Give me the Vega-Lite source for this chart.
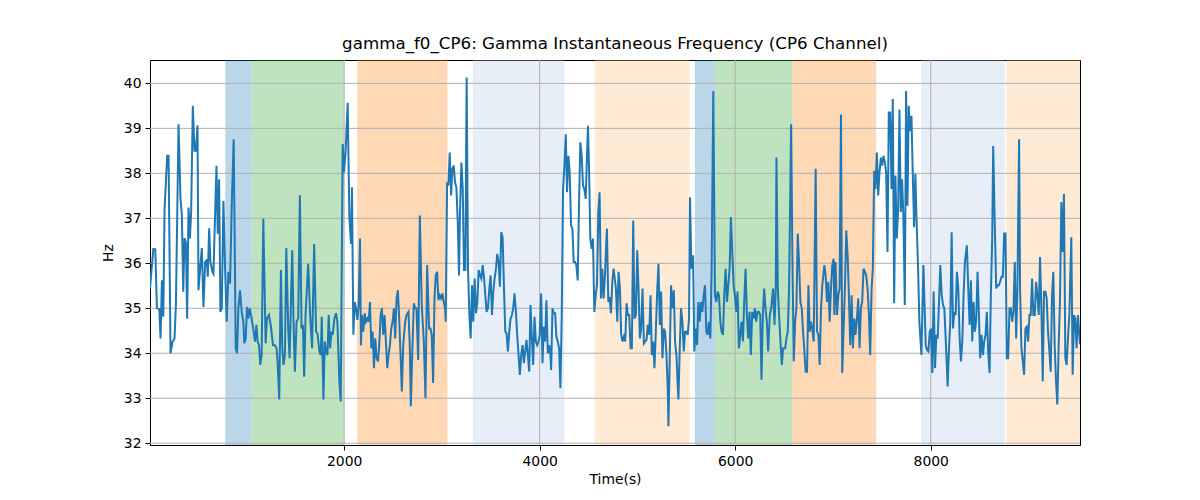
{
  "$schema": "https://vega.github.io/schema/vega-lite/v6.json",
  "width": 930,
  "height": 385,
  "autosize": {"type": "none"},
  "padding": {"left": 150, "top": 60, "right": 120, "bottom": 55},
  "title": {
    "text": "gamma_f0_CP6: Gamma Instantaneous Frequency (CP6 Channel)",
    "font": "DejaVu Sans",
    "fontSize": 16.7,
    "fontWeight": "normal",
    "color": "black",
    "offset": 7
  },
  "datasets": {
    "spans": [
      {"start": 784, "end": 1053, "kind": "a"},
      {"start": 1053, "end": 2000, "kind": "b"},
      {"start": 2133, "end": 3057, "kind": "c"},
      {"start": 3316, "end": 4253, "kind": "d"},
      {"start": 4563, "end": 5534, "kind": "e"},
      {"start": 5588, "end": 5793, "kind": "a"},
      {"start": 5793, "end": 6587, "kind": "b"},
      {"start": 6587, "end": 7442, "kind": "c"},
      {"start": 7902, "end": 8757, "kind": "d"},
      {"start": 8771, "end": 9527, "kind": "e"}
    ],
    "ygrid": [{"y": 32}, {"y": 33}, {"y": 34}, {"y": 35}, {"y": 36}, {"y": 37}, {"y": 38}, {"y": 39}, {"y": 40}],
    "xgrid": [{"x": 2000}, {"x": 4000}, {"x": 6000}, {"x": 8000}],
    "series": [
      {"t": 14, "v": 35.44}, {"t": 48, "v": 36.32}, {"t": 68, "v": 36.31}, {"t": 85, "v": 35.0}, {"t": 109, "v": 34.98},
      {"t": 122, "v": 34.33}, {"t": 136, "v": 35.62}, {"t": 150, "v": 34.81}, {"t": 163, "v": 37.21}, {"t": 190, "v": 38.39},
      {"t": 204, "v": 38.39}, {"t": 224, "v": 34.0}, {"t": 245, "v": 34.26}, {"t": 265, "v": 34.33}, {"t": 279, "v": 35.07},
      {"t": 306, "v": 39.09}, {"t": 326, "v": 37.43}, {"t": 340, "v": 37.06}, {"t": 354, "v": 35.37}, {"t": 367, "v": 36.56},
      {"t": 381, "v": 36.47}, {"t": 394, "v": 34.77}, {"t": 408, "v": 37.24}, {"t": 422, "v": 36.55}, {"t": 435, "v": 37.14},
      {"t": 452, "v": 39.5}, {"t": 469, "v": 38.5}, {"t": 483, "v": 38.5}, {"t": 500, "v": 39.07}, {"t": 510, "v": 35.4},
      {"t": 527, "v": 35.88}, {"t": 544, "v": 36.34}, {"t": 561, "v": 35.03}, {"t": 578, "v": 36.03}, {"t": 595, "v": 36.07},
      {"t": 605, "v": 35.7}, {"t": 619, "v": 36.78}, {"t": 632, "v": 36.03}, {"t": 653, "v": 35.81}, {"t": 663, "v": 35.77},
      {"t": 694, "v": 38.17}, {"t": 707, "v": 36.66}, {"t": 721, "v": 37.87}, {"t": 734, "v": 34.92}, {"t": 748, "v": 35.0},
      {"t": 765, "v": 37.39}, {"t": 782, "v": 35.88}, {"t": 799, "v": 34.7}, {"t": 816, "v": 35.81}, {"t": 833, "v": 35.55},
      {"t": 850, "v": 37.28}, {"t": 870, "v": 38.76}, {"t": 891, "v": 34.11}, {"t": 904, "v": 34.0}, {"t": 918, "v": 35.0},
      {"t": 935, "v": 35.4}, {"t": 952, "v": 34.92}, {"t": 969, "v": 34.7}, {"t": 979, "v": 34.22}, {"t": 993, "v": 34.33},
      {"t": 1006, "v": 35.03}, {"t": 1020, "v": 34.77}, {"t": 1034, "v": 35.0}, {"t": 1054, "v": 34.77}, {"t": 1074, "v": 34.48},
      {"t": 1088, "v": 34.26}, {"t": 1102, "v": 34.63}, {"t": 1115, "v": 34.26}, {"t": 1129, "v": 34.18}, {"t": 1142, "v": 33.74},
      {"t": 1156, "v": 33.96}, {"t": 1173, "v": 36.99}, {"t": 1197, "v": 34.22}, {"t": 1210, "v": 34.77}, {"t": 1231, "v": 34.85},
      {"t": 1251, "v": 34.59}, {"t": 1272, "v": 34.18}, {"t": 1292, "v": 34.18}, {"t": 1309, "v": 34.11}, {"t": 1319, "v": 33.82},
      {"t": 1336, "v": 32.97}, {"t": 1353, "v": 35.85}, {"t": 1367, "v": 34.11}, {"t": 1380, "v": 33.74}, {"t": 1394, "v": 33.96},
      {"t": 1408, "v": 36.34}, {"t": 1428, "v": 34.55}, {"t": 1442, "v": 33.89}, {"t": 1469, "v": 36.29}, {"t": 1482, "v": 34.7},
      {"t": 1496, "v": 33.59}, {"t": 1513, "v": 34.7}, {"t": 1530, "v": 34.77}, {"t": 1547, "v": 37.51}, {"t": 1564, "v": 34.55},
      {"t": 1578, "v": 34.63}, {"t": 1591, "v": 33.48}, {"t": 1605, "v": 34.85}, {"t": 1632, "v": 35.99}, {"t": 1652, "v": 34.85},
      {"t": 1672, "v": 34.11}, {"t": 1693, "v": 36.43}, {"t": 1713, "v": 34.48}, {"t": 1727, "v": 34.44}, {"t": 1747, "v": 34.04},
      {"t": 1761, "v": 33.96}, {"t": 1771, "v": 34.81}, {"t": 1788, "v": 32.97}, {"t": 1802, "v": 34.26}, {"t": 1815, "v": 34.04},
      {"t": 1829, "v": 33.96}, {"t": 1842, "v": 34.85}, {"t": 1856, "v": 34.11}, {"t": 1870, "v": 34.48}, {"t": 1883, "v": 34.41},
      {"t": 1900, "v": 34.77}, {"t": 1917, "v": 34.89}, {"t": 1931, "v": 34.7}, {"t": 1951, "v": 33.37}, {"t": 1965, "v": 32.93},
      {"t": 1985, "v": 38.65}, {"t": 1999, "v": 38.02}, {"t": 2016, "v": 38.54}, {"t": 2036, "v": 39.57}, {"t": 2053, "v": 37.06},
      {"t": 2070, "v": 36.43}, {"t": 2080, "v": 37.69}, {"t": 2094, "v": 34.41}, {"t": 2108, "v": 35.14}, {"t": 2121, "v": 35.0},
      {"t": 2135, "v": 34.74}, {"t": 2148, "v": 35.07}, {"t": 2162, "v": 36.55}, {"t": 2172, "v": 34.18}, {"t": 2182, "v": 34.85},
      {"t": 2196, "v": 34.48}, {"t": 2210, "v": 34.89}, {"t": 2223, "v": 34.7}, {"t": 2237, "v": 34.77}, {"t": 2250, "v": 34.7},
      {"t": 2264, "v": 35.14}, {"t": 2278, "v": 34.11}, {"t": 2291, "v": 34.48}, {"t": 2305, "v": 33.67}, {"t": 2318, "v": 34.33},
      {"t": 2332, "v": 33.89}, {"t": 2346, "v": 33.82}, {"t": 2359, "v": 34.18}, {"t": 2373, "v": 34.85}, {"t": 2386, "v": 35.0},
      {"t": 2400, "v": 34.41}, {"t": 2414, "v": 34.85}, {"t": 2427, "v": 34.26}, {"t": 2441, "v": 33.67}, {"t": 2454, "v": 33.96},
      {"t": 2468, "v": 34.18}, {"t": 2482, "v": 34.55}, {"t": 2495, "v": 34.7}, {"t": 2509, "v": 35.0}, {"t": 2522, "v": 34.33},
      {"t": 2536, "v": 35.22}, {"t": 2550, "v": 35.4}, {"t": 2563, "v": 34.77}, {"t": 2577, "v": 33.96}, {"t": 2590, "v": 33.15},
      {"t": 2604, "v": 34.18}, {"t": 2624, "v": 34.7}, {"t": 2638, "v": 34.85}, {"t": 2658, "v": 34.92}, {"t": 2672, "v": 34.11},
      {"t": 2682, "v": 32.82}, {"t": 2699, "v": 34.18}, {"t": 2713, "v": 35.11}, {"t": 2726, "v": 35.0}, {"t": 2740, "v": 35.0},
      {"t": 2757, "v": 33.85}, {"t": 2774, "v": 37.06}, {"t": 2794, "v": 35.07}, {"t": 2815, "v": 34.26}, {"t": 2832, "v": 33.0},
      {"t": 2849, "v": 35.96}, {"t": 2869, "v": 34.55}, {"t": 2883, "v": 34.55}, {"t": 2896, "v": 34.41}, {"t": 2910, "v": 33.34},
      {"t": 2924, "v": 35.22}, {"t": 2937, "v": 35.73}, {"t": 2951, "v": 35.81}, {"t": 2964, "v": 35.18}, {"t": 2978, "v": 35.29},
      {"t": 2992, "v": 35.22}, {"t": 3005, "v": 35.33}, {"t": 3019, "v": 35.14}, {"t": 3032, "v": 35.0}, {"t": 3039, "v": 34.7},
      {"t": 3053, "v": 37.8}, {"t": 3066, "v": 37.73}, {"t": 3080, "v": 38.46}, {"t": 3094, "v": 37.51}, {"t": 3107, "v": 38.1},
      {"t": 3121, "v": 38.17}, {"t": 3134, "v": 37.8}, {"t": 3148, "v": 37.69}, {"t": 3162, "v": 36.92}, {"t": 3175, "v": 35.73},
      {"t": 3185, "v": 37.14}, {"t": 3199, "v": 38.24}, {"t": 3213, "v": 37.65}, {"t": 3226, "v": 35.85}, {"t": 3240, "v": 35.85},
      {"t": 3253, "v": 40.13}, {"t": 3267, "v": 35.88}, {"t": 3281, "v": 34.85}, {"t": 3294, "v": 34.33}, {"t": 3308, "v": 35.51},
      {"t": 3321, "v": 34.7}, {"t": 3335, "v": 35.66}, {"t": 3349, "v": 34.89}, {"t": 3362, "v": 35.14}, {"t": 3376, "v": 35.85},
      {"t": 3389, "v": 35.73}, {"t": 3403, "v": 35.66}, {"t": 3417, "v": 35.96}, {"t": 3430, "v": 35.7}, {"t": 3444, "v": 35.29},
      {"t": 3457, "v": 34.92}, {"t": 3471, "v": 35.0}, {"t": 3485, "v": 35.44}, {"t": 3498, "v": 35.73}, {"t": 3512, "v": 34.85},
      {"t": 3525, "v": 35.37}, {"t": 3539, "v": 35.66}, {"t": 3553, "v": 35.88}, {"t": 3566, "v": 36.21}, {"t": 3580, "v": 36.03},
      {"t": 3593, "v": 35.48}, {"t": 3607, "v": 36.69}, {"t": 3621, "v": 36.58}, {"t": 3634, "v": 35.51}, {"t": 3648, "v": 34.48},
      {"t": 3661, "v": 34.44}, {"t": 3675, "v": 34.04}, {"t": 3689, "v": 34.48}, {"t": 3702, "v": 34.77}, {"t": 3716, "v": 34.85},
      {"t": 3729, "v": 35.0}, {"t": 3743, "v": 35.33}, {"t": 3757, "v": 34.92}, {"t": 3770, "v": 34.41}, {"t": 3784, "v": 33.96},
      {"t": 3797, "v": 33.52}, {"t": 3811, "v": 33.96}, {"t": 3825, "v": 34.18}, {"t": 3838, "v": 33.78}, {"t": 3852, "v": 34.04},
      {"t": 3865, "v": 34.3}, {"t": 3879, "v": 33.96}, {"t": 3893, "v": 33.59}, {"t": 3906, "v": 35.07}, {"t": 3920, "v": 34.33},
      {"t": 3933, "v": 33.74}, {"t": 3947, "v": 34.81}, {"t": 3961, "v": 34.26}, {"t": 3974, "v": 34.18}, {"t": 3988, "v": 34.26},
      {"t": 4001, "v": 34.41}, {"t": 4015, "v": 35.33}, {"t": 4029, "v": 33.78}, {"t": 4042, "v": 34.59}, {"t": 4056, "v": 34.26},
      {"t": 4069, "v": 35.18}, {"t": 4083, "v": 34.0}, {"t": 4097, "v": 34.18}, {"t": 4110, "v": 33.96}, {"t": 4117, "v": 33.63},
      {"t": 4131, "v": 35.0}, {"t": 4144, "v": 34.89}, {"t": 4158, "v": 34.89}, {"t": 4171, "v": 34.37}, {"t": 4185, "v": 34.26},
      {"t": 4199, "v": 34.11}, {"t": 4212, "v": 33.22}, {"t": 4226, "v": 34.85}, {"t": 4239, "v": 37.65}, {"t": 4253, "v": 38.17},
      {"t": 4267, "v": 38.87}, {"t": 4280, "v": 37.58}, {"t": 4294, "v": 38.39}, {"t": 4307, "v": 38.02}, {"t": 4321, "v": 36.84},
      {"t": 4335, "v": 36.77}, {"t": 4348, "v": 36.03}, {"t": 4362, "v": 36.03}, {"t": 4375, "v": 35.96}, {"t": 4389, "v": 35.62},
      {"t": 4403, "v": 37.36}, {"t": 4416, "v": 38.69}, {"t": 4430, "v": 38.39}, {"t": 4443, "v": 37.73}, {"t": 4457, "v": 37.65},
      {"t": 4471, "v": 37.43}, {"t": 4484, "v": 38.39}, {"t": 4494, "v": 39.06}, {"t": 4505, "v": 38.1}, {"t": 4518, "v": 36.55},
      {"t": 4532, "v": 36.32}, {"t": 4545, "v": 36.55}, {"t": 4559, "v": 34.92}, {"t": 4573, "v": 35.29}, {"t": 4586, "v": 35.51},
      {"t": 4600, "v": 37.14}, {"t": 4613, "v": 37.58}, {"t": 4627, "v": 35.22}, {"t": 4641, "v": 35.88}, {"t": 4654, "v": 35.22},
      {"t": 4668, "v": 35.73}, {"t": 4681, "v": 36.47}, {"t": 4688, "v": 36.77}, {"t": 4702, "v": 35.14}, {"t": 4715, "v": 35.25},
      {"t": 4729, "v": 34.89}, {"t": 4743, "v": 35.59}, {"t": 4756, "v": 35.88}, {"t": 4780, "v": 35.44}, {"t": 4794, "v": 34.7},
      {"t": 4807, "v": 35.81}, {"t": 4821, "v": 35.44}, {"t": 4834, "v": 34.41}, {"t": 4848, "v": 34.26}, {"t": 4862, "v": 34.37},
      {"t": 4875, "v": 34.26}, {"t": 4889, "v": 35.11}, {"t": 4902, "v": 34.85}, {"t": 4916, "v": 34.85}, {"t": 4930, "v": 34.11},
      {"t": 4943, "v": 34.11}, {"t": 4957, "v": 36.95}, {"t": 4970, "v": 34.77}, {"t": 4984, "v": 34.85}, {"t": 4998, "v": 36.29},
      {"t": 5011, "v": 35.44}, {"t": 5025, "v": 34.33}, {"t": 5038, "v": 34.55}, {"t": 5052, "v": 35.44}, {"t": 5066, "v": 34.22},
      {"t": 5079, "v": 34.26}, {"t": 5093, "v": 34.3}, {"t": 5106, "v": 34.63}, {"t": 5120, "v": 34.41}, {"t": 5134, "v": 35.29},
      {"t": 5147, "v": 33.96}, {"t": 5161, "v": 34.26}, {"t": 5174, "v": 33.67}, {"t": 5188, "v": 34.48}, {"t": 5202, "v": 35.37},
      {"t": 5215, "v": 35.99}, {"t": 5229, "v": 34.63}, {"t": 5242, "v": 35.37}, {"t": 5256, "v": 33.89}, {"t": 5270, "v": 34.55},
      {"t": 5283, "v": 34.48}, {"t": 5297, "v": 33.96}, {"t": 5310, "v": 33.22}, {"t": 5317, "v": 32.38}, {"t": 5331, "v": 33.96},
      {"t": 5344, "v": 35.51}, {"t": 5358, "v": 35.0}, {"t": 5372, "v": 35.4}, {"t": 5385, "v": 34.26}, {"t": 5399, "v": 33.96},
      {"t": 5412, "v": 33.3}, {"t": 5419, "v": 32.97}, {"t": 5433, "v": 34.11}, {"t": 5446, "v": 35.0}, {"t": 5460, "v": 34.7},
      {"t": 5474, "v": 34.04}, {"t": 5487, "v": 34.48}, {"t": 5501, "v": 34.48}, {"t": 5514, "v": 34.41}, {"t": 5528, "v": 34.77},
      {"t": 5538, "v": 37.47}, {"t": 5552, "v": 35.88}, {"t": 5569, "v": 36.18}, {"t": 5582, "v": 34.04}, {"t": 5596, "v": 34.55},
      {"t": 5610, "v": 34.18}, {"t": 5623, "v": 35.14}, {"t": 5637, "v": 34.7}, {"t": 5650, "v": 35.14}, {"t": 5664, "v": 34.92},
      {"t": 5678, "v": 35.29}, {"t": 5691, "v": 35.51}, {"t": 5705, "v": 34.48}, {"t": 5718, "v": 34.41}, {"t": 5732, "v": 34.7},
      {"t": 5746, "v": 34.33}, {"t": 5759, "v": 35.88}, {"t": 5776, "v": 39.83}, {"t": 5793, "v": 35.29}, {"t": 5807, "v": 35.14},
      {"t": 5820, "v": 35.37}, {"t": 5834, "v": 35.29}, {"t": 5848, "v": 34.7}, {"t": 5861, "v": 34.48}, {"t": 5875, "v": 34.41},
      {"t": 5888, "v": 35.29}, {"t": 5902, "v": 35.88}, {"t": 5916, "v": 35.14}, {"t": 5929, "v": 35.51}, {"t": 5943, "v": 35.88},
      {"t": 5956, "v": 37.03}, {"t": 5970, "v": 36.25}, {"t": 5984, "v": 35.51}, {"t": 5997, "v": 35.29}, {"t": 6011, "v": 34.92},
      {"t": 6024, "v": 35.37}, {"t": 6038, "v": 34.11}, {"t": 6052, "v": 34.41}, {"t": 6065, "v": 34.7}, {"t": 6079, "v": 34.26},
      {"t": 6092, "v": 35.14}, {"t": 6106, "v": 35.88}, {"t": 6120, "v": 34.85}, {"t": 6133, "v": 34.33}, {"t": 6147, "v": 34.92},
      {"t": 6160, "v": 33.96}, {"t": 6174, "v": 34.92}, {"t": 6188, "v": 34.77}, {"t": 6201, "v": 35.0}, {"t": 6215, "v": 34.7},
      {"t": 6228, "v": 34.92}, {"t": 6242, "v": 34.92}, {"t": 6256, "v": 34.85}, {"t": 6269, "v": 33.41}, {"t": 6283, "v": 34.85},
      {"t": 6296, "v": 35.44}, {"t": 6310, "v": 35.0}, {"t": 6324, "v": 34.7}, {"t": 6337, "v": 34.04}, {"t": 6354, "v": 34.85},
      {"t": 6368, "v": 35.0}, {"t": 6388, "v": 35.44}, {"t": 6402, "v": 34.63}, {"t": 6415, "v": 35.44}, {"t": 6422, "v": 38.35},
      {"t": 6436, "v": 35.44}, {"t": 6449, "v": 34.85}, {"t": 6463, "v": 34.26}, {"t": 6477, "v": 33.74}, {"t": 6490, "v": 34.11},
      {"t": 6511, "v": 34.11}, {"t": 6524, "v": 34.33}, {"t": 6538, "v": 34.48}, {"t": 6551, "v": 35.44}, {"t": 6572, "v": 39.09},
      {"t": 6585, "v": 36.18}, {"t": 6599, "v": 33.82}, {"t": 6613, "v": 34.7}, {"t": 6626, "v": 35.0}, {"t": 6640, "v": 36.66},
      {"t": 6653, "v": 36.03}, {"t": 6667, "v": 35.14}, {"t": 6681, "v": 35.0}, {"t": 6694, "v": 34.48}, {"t": 6708, "v": 34.04},
      {"t": 6721, "v": 33.59}, {"t": 6735, "v": 33.59}, {"t": 6749, "v": 35.51}, {"t": 6762, "v": 34.48}, {"t": 6776, "v": 34.7},
      {"t": 6789, "v": 34.52}, {"t": 6803, "v": 34.26}, {"t": 6823, "v": 38.1}, {"t": 6837, "v": 34.48}, {"t": 6851, "v": 34.41},
      {"t": 6864, "v": 33.74}, {"t": 6878, "v": 35.0}, {"t": 6891, "v": 35.51}, {"t": 6912, "v": 35.96}, {"t": 6925, "v": 35.73},
      {"t": 6939, "v": 35.14}, {"t": 6953, "v": 35.59}, {"t": 6966, "v": 34.7}, {"t": 6980, "v": 35.44}, {"t": 6993, "v": 35.96},
      {"t": 7007, "v": 36.1}, {"t": 7014, "v": 34.85}, {"t": 7027, "v": 36.03}, {"t": 7041, "v": 34.85}, {"t": 7055, "v": 35.29},
      {"t": 7068, "v": 35.44}, {"t": 7082, "v": 39.31}, {"t": 7095, "v": 33.56}, {"t": 7109, "v": 34.55}, {"t": 7123, "v": 35.51},
      {"t": 7136, "v": 36.73}, {"t": 7150, "v": 36.18}, {"t": 7163, "v": 35.29}, {"t": 7177, "v": 34.18}, {"t": 7191, "v": 35.29},
      {"t": 7204, "v": 34.11}, {"t": 7218, "v": 34.77}, {"t": 7231, "v": 34.41}, {"t": 7245, "v": 34.77}, {"t": 7259, "v": 35.22},
      {"t": 7272, "v": 34.11}, {"t": 7286, "v": 35.0}, {"t": 7299, "v": 35.14}, {"t": 7313, "v": 35.88}, {"t": 7327, "v": 35.81},
      {"t": 7340, "v": 35.73}, {"t": 7354, "v": 35.44}, {"t": 7367, "v": 34.92}, {"t": 7381, "v": 33.96}, {"t": 7395, "v": 35.44},
      {"t": 7408, "v": 35.88}, {"t": 7422, "v": 38.06}, {"t": 7435, "v": 37.65}, {"t": 7449, "v": 38.46}, {"t": 7463, "v": 37.51},
      {"t": 7476, "v": 38.02}, {"t": 7490, "v": 38.35}, {"t": 7503, "v": 38.17}, {"t": 7517, "v": 38.39}, {"t": 7531, "v": 38.24},
      {"t": 7544, "v": 38.02}, {"t": 7558, "v": 36.25}, {"t": 7571, "v": 39.35}, {"t": 7585, "v": 39.35}, {"t": 7599, "v": 37.65},
      {"t": 7612, "v": 39.65}, {"t": 7626, "v": 35.11}, {"t": 7639, "v": 37.95}, {"t": 7653, "v": 36.55}, {"t": 7667, "v": 37.21},
      {"t": 7680, "v": 39.42}, {"t": 7694, "v": 37.14}, {"t": 7707, "v": 37.87}, {"t": 7721, "v": 36.99}, {"t": 7735, "v": 35.07},
      {"t": 7748, "v": 39.83}, {"t": 7762, "v": 37.28}, {"t": 7775, "v": 39.5}, {"t": 7789, "v": 38.94}, {"t": 7803, "v": 39.28},
      {"t": 7816, "v": 38.02}, {"t": 7830, "v": 36.8}, {"t": 7843, "v": 37.99}, {"t": 7857, "v": 36.84}, {"t": 7871, "v": 35.88},
      {"t": 7884, "v": 34.7}, {"t": 7905, "v": 33.96}, {"t": 7925, "v": 35.96}, {"t": 7949, "v": 34.18}, {"t": 7962, "v": 34.07},
      {"t": 7976, "v": 34.04}, {"t": 7990, "v": 34.48}, {"t": 8003, "v": 34.55}, {"t": 8017, "v": 33.56}, {"t": 8030, "v": 35.37},
      {"t": 8044, "v": 33.67}, {"t": 8058, "v": 34.41}, {"t": 8071, "v": 34.33}, {"t": 8085, "v": 35.14}, {"t": 8098, "v": 35.96},
      {"t": 8112, "v": 35.29}, {"t": 8126, "v": 35.07}, {"t": 8139, "v": 35.0}, {"t": 8153, "v": 34.33}, {"t": 8166, "v": 33.67},
      {"t": 8173, "v": 33.26}, {"t": 8187, "v": 34.11}, {"t": 8200, "v": 34.7}, {"t": 8214, "v": 36.69}, {"t": 8228, "v": 34.55},
      {"t": 8241, "v": 34.92}, {"t": 8255, "v": 34.85}, {"t": 8268, "v": 35.81}, {"t": 8282, "v": 35.44}, {"t": 8296, "v": 34.33},
      {"t": 8309, "v": 33.82}, {"t": 8323, "v": 34.26}, {"t": 8336, "v": 35.29}, {"t": 8350, "v": 36.03}, {"t": 8370, "v": 36.4},
      {"t": 8384, "v": 35.44}, {"t": 8398, "v": 34.63}, {"t": 8411, "v": 35.62}, {"t": 8425, "v": 34.26}, {"t": 8438, "v": 35.14},
      {"t": 8452, "v": 34.48}, {"t": 8466, "v": 34.77}, {"t": 8479, "v": 35.81}, {"t": 8493, "v": 34.85}, {"t": 8506, "v": 33.89},
      {"t": 8520, "v": 34.41}, {"t": 8534, "v": 33.96}, {"t": 8547, "v": 34.26}, {"t": 8561, "v": 34.41}, {"t": 8574, "v": 34.92},
      {"t": 8588, "v": 34.04}, {"t": 8602, "v": 33.56}, {"t": 8615, "v": 35.29}, {"t": 8629, "v": 36.55}, {"t": 8639, "v": 38.61},
      {"t": 8656, "v": 36.77}, {"t": 8670, "v": 35.44}, {"t": 8683, "v": 35.51}, {"t": 8697, "v": 35.51}, {"t": 8710, "v": 35.59},
      {"t": 8724, "v": 35.7}, {"t": 8738, "v": 35.7}, {"t": 8751, "v": 36.66}, {"t": 8765, "v": 36.66}, {"t": 8778, "v": 33.89},
      {"t": 8792, "v": 33.89}, {"t": 8806, "v": 35.0}, {"t": 8819, "v": 35.0}, {"t": 8833, "v": 34.7}, {"t": 8846, "v": 34.92},
      {"t": 8860, "v": 36.03}, {"t": 8874, "v": 34.33}, {"t": 8887, "v": 35.44}, {"t": 8904, "v": 38.76}, {"t": 8914, "v": 35.44},
      {"t": 8928, "v": 34.11}, {"t": 8942, "v": 33.82}, {"t": 8955, "v": 33.52}, {"t": 8969, "v": 34.55}, {"t": 8982, "v": 34.59},
      {"t": 8996, "v": 34.26}, {"t": 9010, "v": 34.85}, {"t": 9023, "v": 34.85}, {"t": 9037, "v": 35.66}, {"t": 9050, "v": 34.85},
      {"t": 9064, "v": 34.85}, {"t": 9078, "v": 35.59}, {"t": 9091, "v": 35.29}, {"t": 9105, "v": 34.85}, {"t": 9118, "v": 36.14},
      {"t": 9132, "v": 35.0}, {"t": 9146, "v": 33.37}, {"t": 9159, "v": 35.37}, {"t": 9173, "v": 35.37}, {"t": 9186, "v": 35.22},
      {"t": 9200, "v": 34.48}, {"t": 9214, "v": 34.04}, {"t": 9227, "v": 33.59}, {"t": 9241, "v": 35.29}, {"t": 9254, "v": 35.81},
      {"t": 9268, "v": 34.18}, {"t": 9282, "v": 33.37}, {"t": 9295, "v": 32.86}, {"t": 9309, "v": 34.18}, {"t": 9322, "v": 35.14},
      {"t": 9336, "v": 37.36}, {"t": 9350, "v": 36.25}, {"t": 9363, "v": 37.54}, {"t": 9377, "v": 33.89}, {"t": 9390, "v": 33.74},
      {"t": 9404, "v": 34.33}, {"t": 9418, "v": 34.85}, {"t": 9438, "v": 36.58}, {"t": 9452, "v": 33.52}, {"t": 9466, "v": 34.85},
      {"t": 9479, "v": 34.77}, {"t": 9492, "v": 34.11}, {"t": 9506, "v": 34.85}, {"t": 9527, "v": 34.2}
    ]
  },
  "layer": [
    {
      "data": {"name": "spans"},
      "mark": {"type": "rect", "opacity": 0.3},
      "encoding": {
        "x": {
          "field": "start", "type": "quantitative", "title": "Time(s)",
          "scale": {"domain": [14, 9527], "nice": false, "zero": false},
          "axis": {"values": [2000, 4000, 6000, 8000], "format": "d"}
        },
        "x2": {"field": "end"},
        "color": {
          "field": "kind",
          "type": "nominal",
          "scale": {"domain": ["a", "b", "c", "d", "e"], "range": ["#1f77b4", "#2ca02c", "#ff7f0e", "#aec7e8", "#ffbb78"]},
          "legend": null
        }
      }
    },
    {
      "data": {"name": "ygrid"},
      "mark": {"type": "rule", "color": "#b0b0b0", "strokeWidth": 1},
      "encoding": {
        "y": {
          "field": "y", "type": "quantitative", "title": "Hz",
          "scale": {"domain": [31.96, 40.52], "nice": false, "zero": false},
          "axis": {"values": [32, 33, 34, 35, 36, 37, 38, 39, 40], "format": "d"}
        }
      }
    },
    {
      "data": {"name": "xgrid"},
      "mark": {"type": "rule", "color": "#b0b0b0", "strokeWidth": 1},
      "encoding": {
        "x": {
          "field": "x", "type": "quantitative", "title": "Time(s)",
          "scale": {"domain": [14, 9527], "nice": false, "zero": false},
          "axis": {"values": [2000, 4000, 6000, 8000], "format": "d"}
        }
      }
    },
    {
      "data": {"name": "series"},
      "mark": {"type": "line", "color": "#1f77b4", "strokeWidth": 2, "clip": true},
      "encoding": {
        "x": {
          "field": "t", "type": "quantitative", "title": "Time(s)",
          "scale": {"domain": [14, 9527], "nice": false, "zero": false},
          "axis": {"values": [2000, 4000, 6000, 8000], "format": "d"}
        },
        "y": {
          "field": "v", "type": "quantitative", "title": "Hz",
          "scale": {"domain": [31.96, 40.52], "nice": false, "zero": false},
          "axis": {"values": [32, 33, 34, 35, 36, 37, 38, 39, 40], "format": "d"}
        }
      }
    }
  ],
  "resolve": {"scale": {"x": "shared", "y": "shared"}},
  "config": {
    "view": {"stroke": "black", "strokeWidth": 1},
    "font": "DejaVu Sans",
    "axis": {
      "grid": false,
      "domainColor": "black",
      "tickColor": "black",
      "tickSize": 5,
      "labelColor": "black",
      "labelFont": "DejaVu Sans",
      "labelFontSize": 13.9,
      "labelPadding": 4,
      "labelFlush": false,
      "titleColor": "black",
      "titleFont": "DejaVu Sans",
      "titleFontSize": 13.9,
      "titleFontWeight": "normal"
    },
    "axisX": {"titlePadding": 5},
    "axisY": {"titlePadding": 8}
  }
}
